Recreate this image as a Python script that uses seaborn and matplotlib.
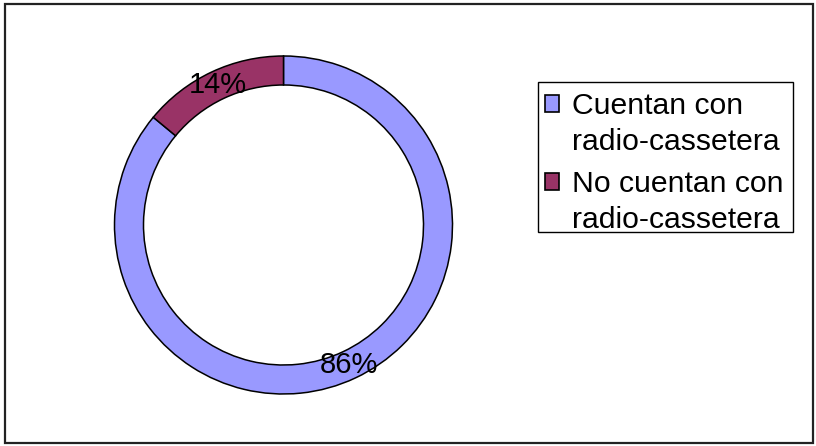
import matplotlib
matplotlib.use("Agg")
import matplotlib.pyplot as plt
import seaborn as sns
import numpy as np
from matplotlib.patches import Patch, Rectangle
from matplotlib.legend_handler import HandlerPatch

sns.set_style("white")
plt.rcParams['font.family'] = ['Liberation Sans', 'DejaVu Sans']

categories = ["Cuentan con\nradio-cassetera", "No cuentan con\nradio-cassetera"]
values = [86, 14]
labels = ["86%", "14%"]
colors = sns.color_palette(["#9999FF", "#993366"])

W, H = 816, 446
fig = plt.figure(figsize=(W / 100, H / 100), dpi=100)
fig.patch.set_facecolor("white")

# outer frame
fig.add_artist(Rectangle((5 / W, 3 / H), 808 / W, 439 / H, transform=fig.transFigure,
                         fill=False, edgecolor="#222222", linewidth=1.6))
# legend frame
fig.add_artist(Rectangle((538 / W, (H - 232) / H), 255 / W, 150 / H, transform=fig.transFigure,
                         fill=True, facecolor="white", edgecolor="black", linewidth=1.0))

cx, cy, r = 283.5, 225, 169
ax = fig.add_axes([(cx - r) / W, (H - cy - r) / H, 2 * r / W, 2 * r / H])
wedges, texts = ax.pie(values, colors=colors, startangle=90, counterclock=False,
                       radius=1, wedgeprops=dict(width=29 / 169, edgecolor="black", linewidth=1.1))
mid = 1 - 14.5 / 169
for w, lab in zip(wedges, labels):
    theta = np.deg2rad((w.theta1 + w.theta2) / 2)
    ax.text(mid * np.cos(theta), mid * np.sin(theta), lab, ha="center", va="center",
            fontsize=21, color="black")
ax.set_xlim(-1, 1)
ax.set_ylim(-1, 1)
ax.set_aspect("equal")
ax.axis("off")

FS = 21.7
SHIFT = 15.0  # points, moves square up to first line


def top_square(legend, orig_handle, xdescent, ydescent, width, height, fontsize):
    return Rectangle((-xdescent, -ydescent + SHIFT), width, height)


handles = [Patch(facecolor=c, edgecolor="black", linewidth=1.2) for c in colors]
leg = fig.legend(handles, categories, loc="upper left",
                 bbox_to_anchor=(545 / W, 1 - 92 / H), bbox_transform=fig.transFigure,
                 borderaxespad=0, fontsize=FS, frameon=False,
                 handlelength=0.47, handleheight=0.47, handletextpad=0.42,
                 borderpad=0.0, labelspacing=0.45,
                 handler_map={Patch: HandlerPatch(patch_func=top_square)})
for t in leg.get_texts():
    t.set_linespacing(1.37)
    t.set_color("black")

fig.savefig("out.png", dpi=100)
